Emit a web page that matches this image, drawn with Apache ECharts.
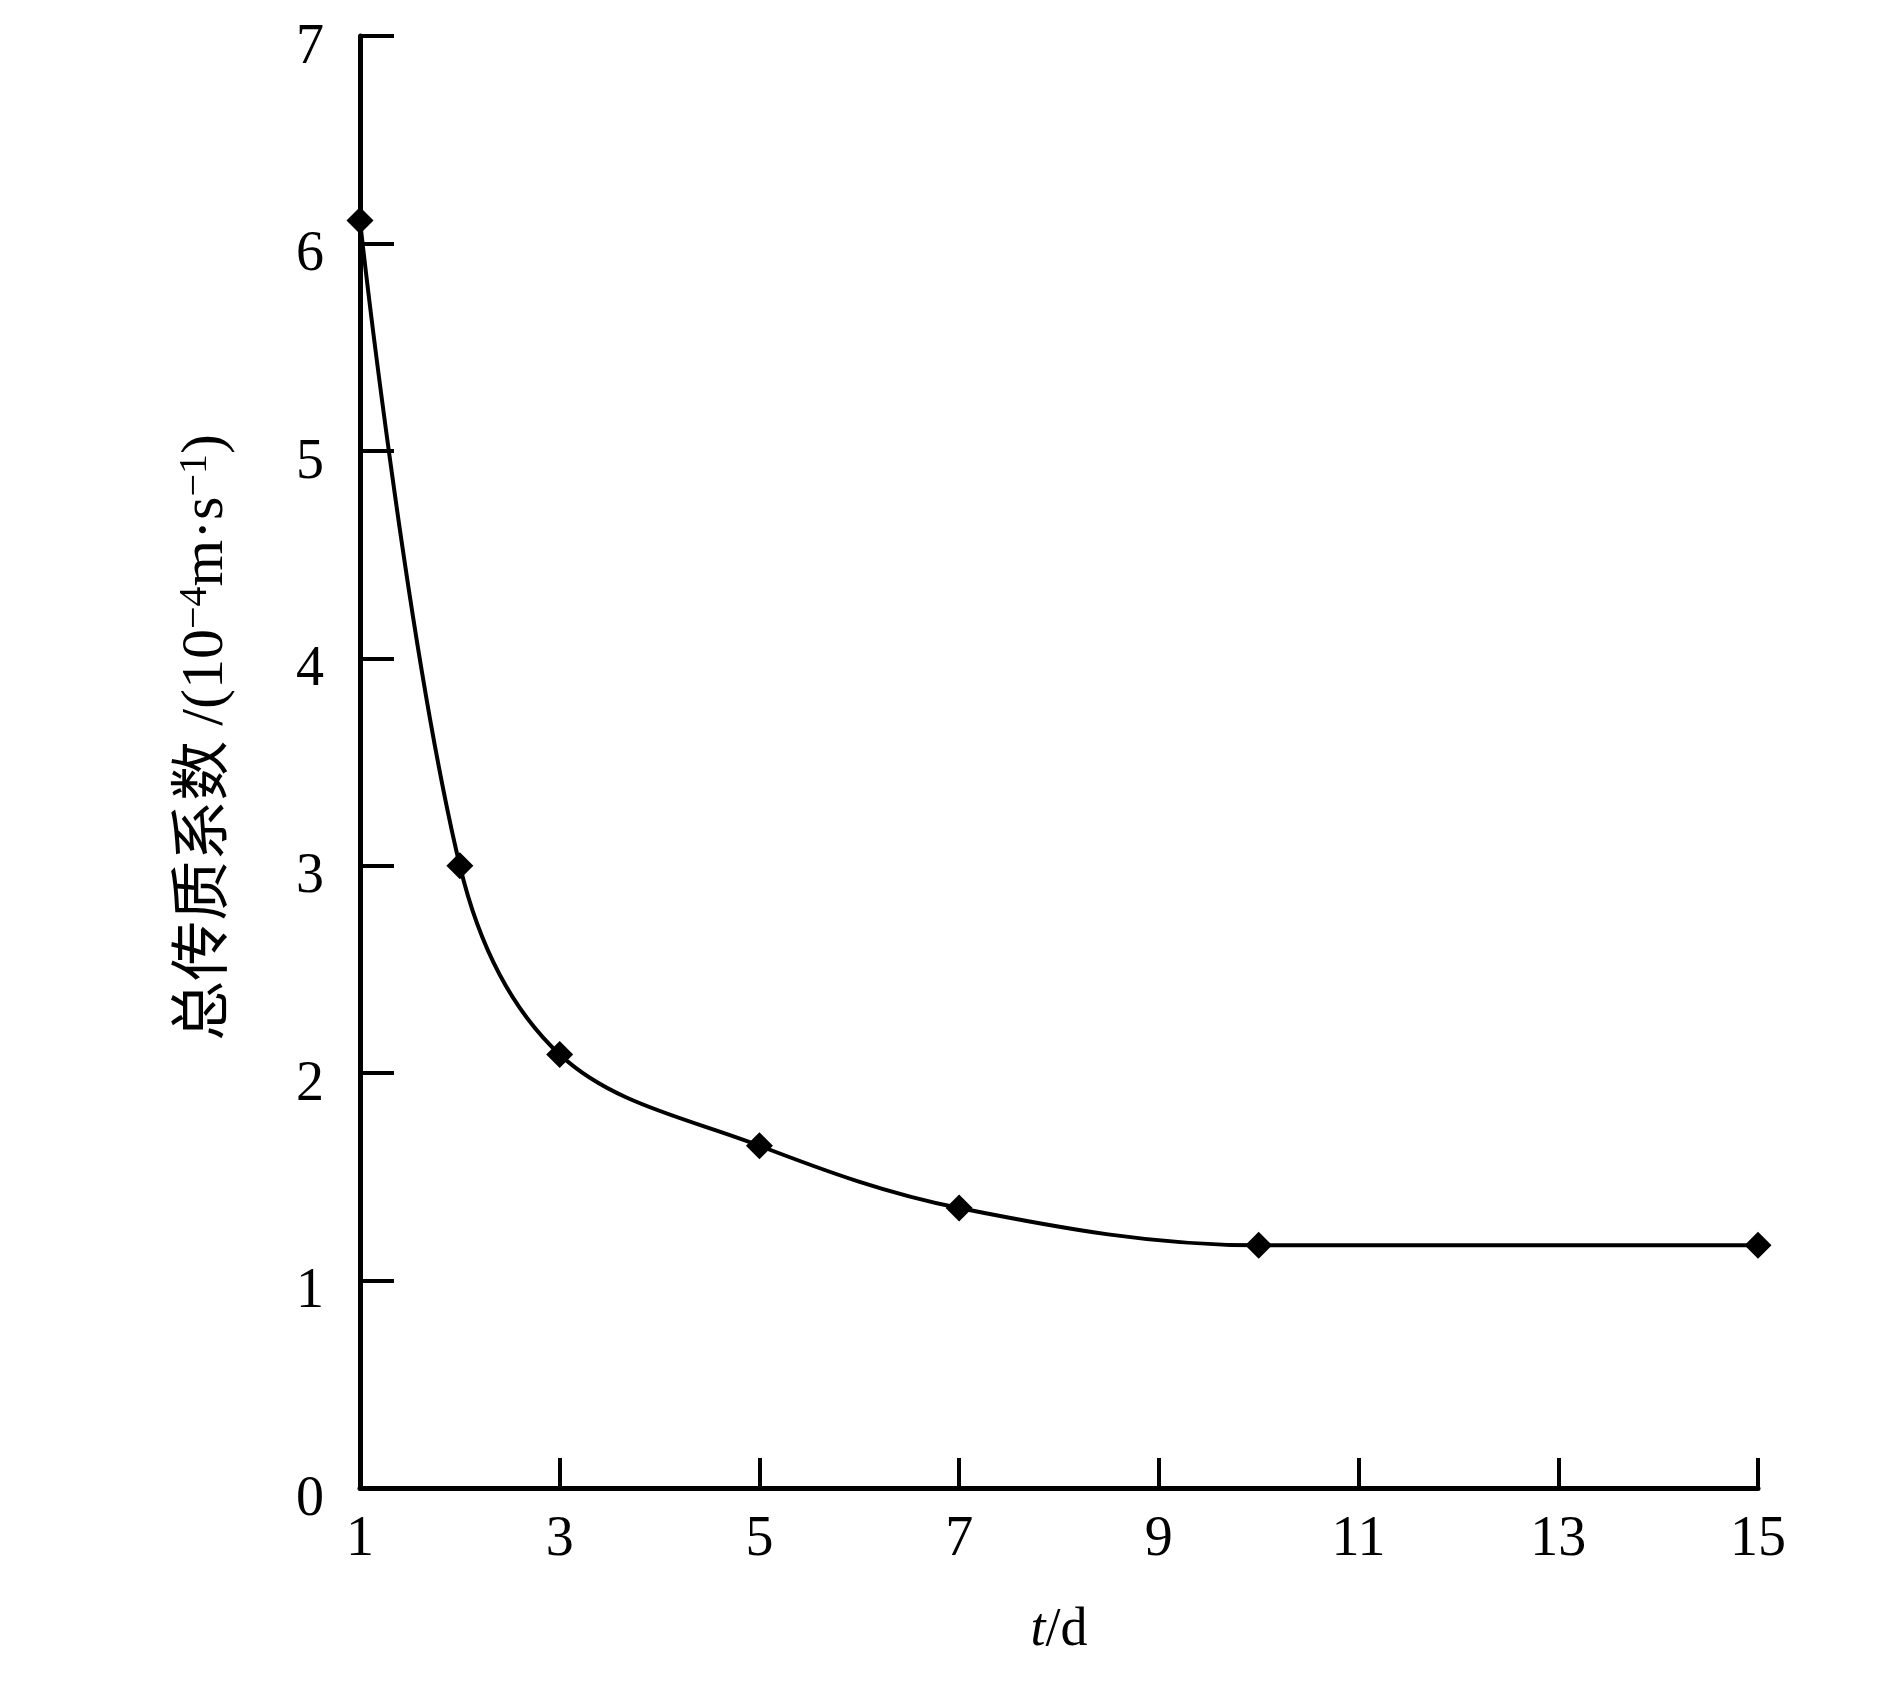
<!DOCTYPE html>
<html>
<head>
<meta charset="utf-8">
<script src="https://cdn.jsdelivr.net/npm/echarts@6/dist/echarts.min.js"></script>
<style>html,body{margin:0;padding:0;background:#fff;}#c{width:1890px;height:1699px;}</style>
</head>
<body>
<div id="c"></div>
<script>
const days = [1, 2, 3, 5, 7, 10, 15];
const coef = [6.11, 3.0, 2.09, 1.65, 1.35, 1.17, 1.17];
const xTicks = [1, 3, 5, 7, 9, 11, 13, 15];
const yTicks = [0, 1, 2, 3, 4, 5, 6, 7];

const FONT = '"Liberation Serif", "Times New Roman", "Noto Sans CJK SC", serif';
const chart = echarts.init(document.getElementById('c'), null, {renderer: 'canvas'});
chart.setOption({
  backgroundColor: '#ffffff',
  animation: false,
  grid: {left: 360, right: 132, top: 36, bottom: 211, containLabel: false},
  xAxis: {
    type: 'value', min: 1, max: 15,
    axisLine: {onZero: false, lineStyle: {color: '#000', width: 5}},
    axisTick: {inside: true, length: 30, lineStyle: {color: '#000', width: 4}, customValues: xTicks},
    axisLabel: {color: '#000', fontFamily: FONT, fontSize: 56, margin: 24, customValues: xTicks},
    splitLine: {show: false},
    name: '{i|t}/d', nameLocation: 'middle', nameGap: 116,
    nameTextStyle: {color: '#000', fontFamily: FONT, fontSize: 54,
      rich: {i: {fontStyle: 'italic', fontFamily: FONT, fontSize: 54, color: '#000'}}}
  },
  yAxis: {
    type: 'value', min: 0, max: 7, interval: 1,
    axisLine: {show: true, lineStyle: {color: '#000', width: 5}},
    axisTick: {show: true, inside: true, length: 34, lineStyle: {color: '#000', width: 4}},
    axisLabel: {
      color: '#000', fontFamily: FONT, fontSize: 56, margin: 36,
      formatter: '{a|{value}}',
      rich: {a: {fontFamily: FONT, fontSize: 56, color: '#000', padding: [24, 0, 0, 0]}}
    },
    splitLine: {show: false}
  },
  graphic: [{
    type: 'text', left: 176, top: 434, rotation: Math.PI / 2,
    style: {
      text: '总传质系数 /(10{s|−4}m·s{s|−1})',
      font: '60px ' + FONT, fill: '#000',
      rich: {s: {fontSize: 40, fontFamily: FONT, verticalAlign: 'top', fill: '#000'}}
    }
  }],
  series: [{
    type: 'line',
    data: days.map((d, i) => [d, coef[i]]),
    smooth: 0.35,
    clip: false,
    symbol: 'diamond', symbolSize: 27,
    lineStyle: {color: '#000', width: 4},
    itemStyle: {color: '#000'}
  }]
});
</script>
</body>
</html>
